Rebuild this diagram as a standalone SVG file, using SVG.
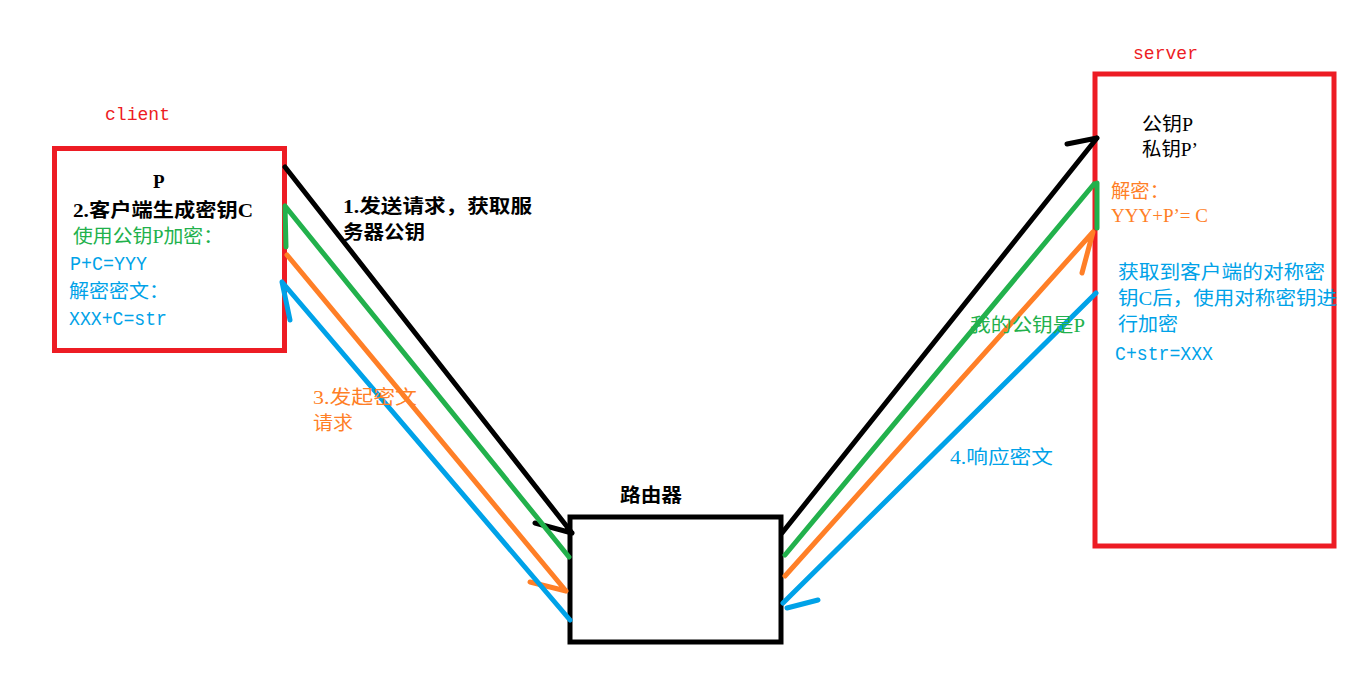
<svg xmlns="http://www.w3.org/2000/svg" width="1369" height="685" viewBox="0 0 1369 685">
<style>
.box{fill:none;stroke:#ED1C24;stroke-width:5}
.rt{fill:#fff;stroke:#000;stroke-width:5}
.ln{fill:none;stroke-width:5;stroke-linecap:round;stroke-linejoin:round}
.k{stroke:#000}.g{stroke:#22B14C}.o{stroke:#FF7F27}.b{stroke:#00A2E8}
text{font-family:"Liberation Serif","Noto Sans CJK SC",serif;font-size:19px}
.mono{font-family:"Liberation Mono","Noto Sans CJK SC",monospace;font-size:18px;fill:#ED1C24}
.lat{font-family:"Liberation Mono","Noto Sans CJK SC",monospace;font-size:20px}
.tk{fill:#000}.tg{fill:#22B14C}.to{fill:#FF7F27}.tb{fill:#00A2E8}
.bold{font-weight:bold}
</style>
<rect width="1369" height="685" fill="#fff"/>
<g id="client">
<rect class="box" x="54.5" y="148.5" width="230" height="202"/>
<text class="mono" x="105" y="120" textLength="65" lengthAdjust="spacingAndGlyphs">client</text>
<text class="tk bold" x="153" y="188">P</text>
<text class="tk bold" x="73" y="217" textLength="180" lengthAdjust="spacingAndGlyphs">2.客户端生成密钥C</text>
<text class="tg" x="73" y="243" textLength="150" lengthAdjust="spacingAndGlyphs">使用公钥P加密：</text>
<text class="tb lat" x="70" y="270" textLength="77" lengthAdjust="spacingAndGlyphs">P+C=YYY</text>
<text class="tb" x="69" y="298" textLength="100" lengthAdjust="spacingAndGlyphs">解密密文：</text>
<text class="tb lat" x="69" y="325" textLength="98" lengthAdjust="spacingAndGlyphs">XXX+C=str</text>
</g>
<g id="server">
<rect class="box" x="1095" y="74" width="239" height="472"/>
<text class="mono" x="1133" y="59" textLength="65" lengthAdjust="spacingAndGlyphs">server</text>
<text class="tk" x="1142" y="131" textLength="51" lengthAdjust="spacingAndGlyphs">公钥P</text>
<text class="tk" x="1142" y="156" textLength="56" lengthAdjust="spacingAndGlyphs">私钥P’</text>
<text class="to" x="1111" y="198" textLength="58" lengthAdjust="spacingAndGlyphs">解密：</text>
<text class="to" x="1111" y="222" textLength="97" lengthAdjust="spacingAndGlyphs">YYY+P’= C</text>
<text class="tb" x="1118" y="279" textLength="207" lengthAdjust="spacingAndGlyphs">获取到客户端的对称密</text>
<text class="tb" x="1118" y="305" textLength="219" lengthAdjust="spacingAndGlyphs">钥C后，使用对称密钥进</text>
<text class="tb" x="1118" y="331" textLength="60" lengthAdjust="spacingAndGlyphs">行加密</text>
<text class="tb lat" x="1115" y="360" textLength="98" lengthAdjust="spacingAndGlyphs">C+str=XXX</text>
</g>
<g id="router">
<rect class="rt" x="570" y="517" width="211" height="125"/>
<text class="tk bold" x="620" y="502" textLength="62" lengthAdjust="spacingAndGlyphs">路由器</text>
</g>
<g id="connectors">
<path class="ln k" d="M285,167 L572,533 M535,523 L572,533"/>
<path class="ln g" d="M569,557 L285,206 L286,247"/>
<path class="ln o" d="M287,255 L566,591 M530,582 L566,591"/>
<path class="ln b" d="M570,620 L282,282 L290,320"/>
<path class="ln k" d="M782,533 L1097,138 M1067,144 L1097,138"/>
<path class="ln g" d="M785,555 L1094,184 M1097,183 L1097,228"/>
<path class="ln o" d="M785,576 L1093,232 L1082,273"/>
<path class="ln b" d="M1096,293 L783,603 M787,608 L818,600"/>
</g>
<g id="labels">
<text class="tk bold" x="343" y="213" textLength="189" lengthAdjust="spacingAndGlyphs">1.发送请求，获取服</text>
<text class="tk bold" x="343" y="239" textLength="82" lengthAdjust="spacingAndGlyphs">务器公钥</text>
<text class="to" x="313" y="404" textLength="104" lengthAdjust="spacingAndGlyphs">3.发起密文</text>
<text class="to" x="313" y="430" textLength="40" lengthAdjust="spacingAndGlyphs">请求</text>
<text class="tg" x="970" y="332" textLength="115" lengthAdjust="spacingAndGlyphs">我的公钥是P</text>
<text class="tb" x="950" y="464" textLength="103" lengthAdjust="spacingAndGlyphs">4.响应密文</text>
</g>
</svg>
